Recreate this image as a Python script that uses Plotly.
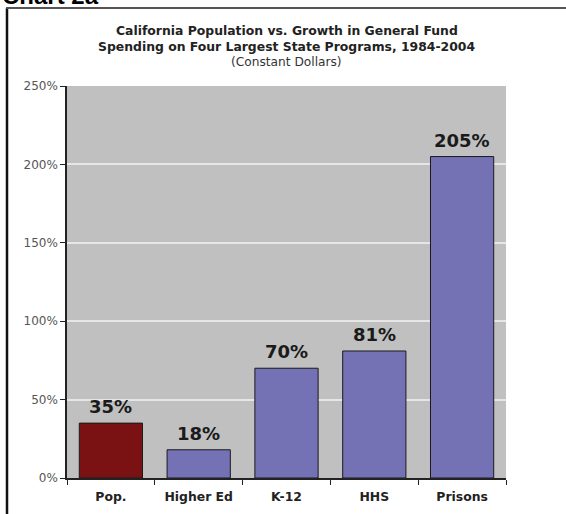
import plotly.graph_objects as go

categories = ["Pop.", "Higher Ed", "K-12", "HHS", "Prisons"]
values = [35, 18, 70, 81, 205]
labels = ["35%", "18%", "70%", "81%", "205%"]
bar_colors = ["#7A1214", "#7571B5", "#7571B5", "#7571B5", "#7571B5"]
y_ticks = [0, 50, 100, 150, 200, 250]
y_tick_labels = ["0%", "50%", "100%", "150%", "200%", "250%"]

W, H = 566, 514
L, R, T, B = 67, 60, 86, 36
pw = W - L - R
ph = H - T - B

def px_x(x):
    return (x - L) / pw

def px_y(y):
    return (H - B - y) / ph

fig = go.Figure()
fig.add_trace(go.Bar(
    x=categories, y=values,
    marker=dict(color=bar_colors, line=dict(color="#1a1a1a", width=1)),
    width=0.72,
    hoverinfo="skip",
))

annotations = []
for c, v, t in zip(categories, values, labels):
    annotations.append(dict(
        x=c, y=v, xref="x", yref="y", text="<b>%s</b>" % t, showarrow=False,
        yanchor="bottom", yshift=4,
        font=dict(family="DejaVu Sans", size=18, color="#1a1a1a"),
    ))

annotations.append(dict(
    x=0.5, y=px_y(31), xref="paper", yref="paper", xanchor="center", yanchor="middle",
    text="<b>California Population vs. Growth in General Fund</b>", showarrow=False,
    font=dict(family="DejaVu Sans", size=12.4, color="#222222"),
))
annotations.append(dict(
    x=0.5, y=px_y(47), xref="paper", yref="paper", xanchor="center", yanchor="middle",
    text="<b>Spending on Four Largest State Programs, 1984-2004</b>", showarrow=False,
    font=dict(family="DejaVu Sans", size=12.4, color="#222222"),
))
annotations.append(dict(
    x=0.5, y=px_y(62), xref="paper", yref="paper", xanchor="center", yanchor="middle",
    text="(Constant Dollars)", showarrow=False,
    font=dict(family="DejaVu Sans", size=12.2, color="#333333"),
))
annotations.append(dict(
    x=px_x(0), y=px_y(11), xref="paper", yref="paper", xanchor="left", yanchor="bottom",
    text="<b>Chart 2a</b>", showarrow=False,
    font=dict(family="Liberation Sans", size=24, color="#000000"),
))

shapes = [
    dict(type="line", xref="paper", yref="paper", x0=px_x(7), x1=px_x(7), y0=px_y(8), y1=px_y(520),
         line=dict(color="#111111", width=2.5)),
    dict(type="line", xref="paper", yref="paper", x0=px_x(6), x1=px_x(570), y0=px_y(8), y1=px_y(8),
         line=dict(color="#555555", width=2)),
]

fig.update_layout(
    width=W, height=H,
    margin=dict(l=L, r=R, t=T, b=B),
    paper_bgcolor="white",
    plot_bgcolor="#C0C0C0",
    showlegend=False,
    bargap=0.28,
    annotations=annotations,
    shapes=shapes,
    xaxis=dict(
        showline=True, linecolor="#222222", linewidth=1.5,
        ticks="outside", ticklen=5, tickcolor="#222222", tickson="boundaries",
        tickfont=dict(family="DejaVu Sans", size=12.4, color="#222222"),
        ticklabelstandoff=6, automargin=False,
        showgrid=False, fixedrange=True,
        tickprefix="<b>", ticksuffix="</b>",
    ),
    yaxis=dict(
        range=[0, 250], tickvals=y_ticks, ticktext=y_tick_labels,
        showline=True, linecolor="#222222", linewidth=1.5,
        ticks="outside", ticklen=5, tickcolor="#222222",
        tickfont=dict(family="DejaVu Sans", size=12, color="#555555"),
        automargin=False,
        showgrid=True, gridcolor="#E6E6E6", gridwidth=1.5,
        zeroline=False, fixedrange=True,
    ),
)

fig.write_html("out.html", config={"displayModeBar": False},
               post_script="document.body.style.margin='0';document.body.style.overflow='hidden';")
